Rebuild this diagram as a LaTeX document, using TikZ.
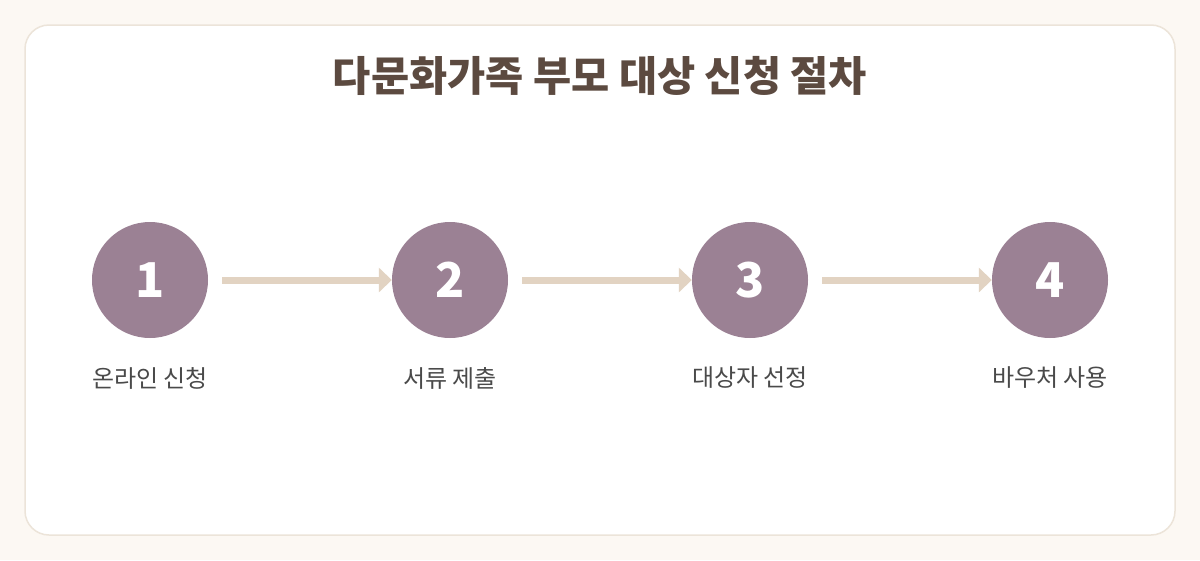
\documentclass[tikz,border=0pt]{standalone}
\usepackage{fontspec}
\setmainfont{Noto Sans}
\newfontfamily\cjk{Noto Sans CJK KR}
\usetikzlibrary{arrows.meta}
\definecolor{bgc}{HTML}{FCF8F3}
\definecolor{cardborder}{HTML}{ECE4D9}
\definecolor{titlec}{HTML}{5C4A40}
\definecolor{circc}{HTML}{9B8194}
\definecolor{arrc}{HTML}{E2D3C2}
\definecolor{labc}{HTML}{4A4A4A}
\tikzset{
  stepcirc/.style={circle, fill=circc, minimum size=116pt, inner sep=0pt, text=white, font=\cjk\bfseries\fontsize{48}{48}\selectfont},
  steplabel/.style={text=labc, font=\cjk\fontsize{24}{26}\selectfont},
  flowarrow/.style={draw=arrc, line width=7pt, -{Triangle[length=13pt,width=24pt]}},
}
\begin{document}
\begin{tikzpicture}[x=1pt,y=-1pt]
\useasboundingbox (0,0) rectangle (1200,560);
\fill[bgc] (0,0) rectangle (1200,560);
\draw[cardborder, fill=white, line width=1.5pt, rounded corners=24pt] (25,25) rectangle (1175,535);
\node[text=titlec, font=\cjk\bfseries\fontsize{41.5}{44}\selectfont] (title) at (600,76) {다문화가족 부모 대상 신청 절차};
\node[stepcirc] (c1) at (150,280) {1};
\node[stepcirc] (c2) at (450,280) {2};
\node[stepcirc] (c3) at (750,280) {3};
\node[stepcirc] (c4) at (1050,280) {4};
\node[steplabel] (l1) at (150,378) {온라인 신청};
\node[steplabel] (l2) at (450,378) {서류 제출};
\node[steplabel] (l3) at (750,378) {대상자 선정};
\node[steplabel] (l4) at (1050,378) {바우처 사용};
\draw[flowarrow] ([xshift=14pt]c1.east) -- (c2.west);
\draw[flowarrow] ([xshift=14pt]c2.east) -- (c3.west);
\draw[flowarrow] ([xshift=14pt]c3.east) -- (c4.west);
\end{tikzpicture}
\end{document}
